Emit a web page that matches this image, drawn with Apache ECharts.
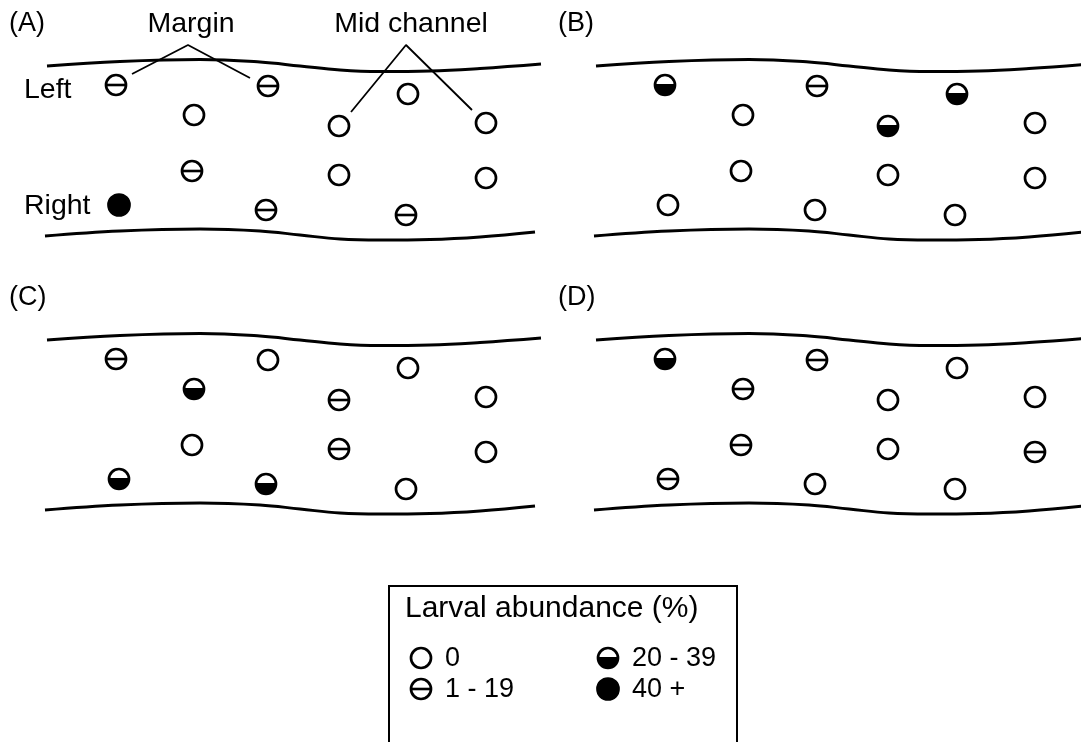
<!DOCTYPE html>
<html><head><meta charset="utf-8">
<script src="https://cdn.jsdelivr.net/npm/echarts@6/dist/echarts.min.js"></script>
<style>html,body{margin:0;padding:0;background:#fff}#c{width:1081px;height:742px}</style>
</head><body><div id="c"></div>
<script>
// ---- data ----
const panelNames = ['(A)', '(B)', '(C)', '(D)'];
// sampling sites (along-channel x, across-channel y) in schematic units
const siteX = [116, 268, 408, 194, 339, 486, 192, 339, 486, 119, 266, 406];
const siteY = [85, 86, 94, 115, 126, 123, 171, 175, 178, 205, 210, 215];
// abundance class per site: 0 = "0", 1 = "1 - 19", 2 = "20 - 39", 3 = "40 +"
const abundA = [1, 1, 0, 0, 0, 0, 1, 0, 0, 3, 1, 1];
const abundB = [2, 1, 2, 0, 2, 0, 0, 0, 0, 0, 0, 0];
const abundC = [1, 0, 0, 2, 1, 0, 0, 1, 0, 2, 2, 0];
const abundD = [2, 1, 0, 1, 0, 0, 1, 0, 1, 1, 0, 0];
// river banks
const topBankX = [47, 120, 200, 260, 300, 340, 380, 430, 480, 541];
const topBankY = [66, 61.5, 59.5, 62, 66, 70, 71.5, 71, 68.5, 64];
const botBankX = [45, 120, 200, 260, 300, 340, 380, 430, 480, 535];
const botBankY = [236, 231, 229, 231, 235, 239, 240, 239.5, 237, 232];
// annotation leaders (panel A)
const marginLeader = [[132, 74], [188, 45], [250, 78]];
const midLeader = [[351, 112], [406, 45], [472, 110]];
const legendLabels = ['0', '1 - 19', '20 - 39', '40 +'];
const legendTitle = 'Larval abundance (%)';

// ---- layout ----
const abund = [abundA, abundB, abundC, abundD];
const offX = [0, 549, 0, 549];
const offY = [0, 0, 274, 274];
const gridW = [545, 532, 545, 532];
const FONT = '"Liberation Sans", Arial, sans-serif';

function symbolShapes(cx, cy, cat) {
  const r = 10, lw = 2.7;
  const ch = [];
  if (cat === 3) {
    ch.push({type: 'circle', shape: {cx, cy, r: r + 0.5}, style: {fill: '#000', stroke: '#000', lineWidth: lw}});
  } else {
    ch.push({type: 'circle', shape: {cx, cy, r}, style: {fill: '#fff', stroke: '#000', lineWidth: lw}});
    if (cat === 2) {
      ch.push({type: 'sector', shape: {cx, cy, r0: 0, r: r, startAngle: 0, endAngle: Math.PI, clockwise: true}, style: {fill: '#000'}});
      ch.push({type: 'line', shape: {x1: cx - r, y1: cy, x2: cx + r, y2: cy}, style: {stroke: '#000', lineWidth: 2}});
    }
    if (cat === 1) {
      ch.push({type: 'line', shape: {x1: cx - r, y1: cy, x2: cx + r, y2: cy}, style: {stroke: '#000', lineWidth: 2.6}});
    }
  }
  return ch;
}

const grids = [], xAxes = [], yAxes = [], series = [];
for (let i = 0; i < 4; i++) {
  grids.push({left: offX[i], top: offY[i], width: gridW[i], height: 260});
  xAxes.push({gridIndex: i, type: 'value', min: 0, max: gridW[i], show: false});
  yAxes.push({gridIndex: i, type: 'value', min: 0, max: 260, inverse: true, show: false});
  const bankStyle = {color: '#000', width: 3};
  series.push({type: 'line', xAxisIndex: i, yAxisIndex: i, smooth: 0.4, symbol: 'none', lineStyle: bankStyle,
    data: topBankX.map((x, k) => [x, topBankY[k]]), silent: true, clip: true});
  series.push({type: 'line', xAxisIndex: i, yAxisIndex: i, smooth: 0.4, symbol: 'none', lineStyle: bankStyle,
    data: botBankX.map((x, k) => [x, botBankY[k]]), silent: true, clip: true});
  series.push({
    type: 'custom', xAxisIndex: i, yAxisIndex: i, z: 5,
    data: siteX.map((x, k) => [x, siteY[k], abund[i][k]]),
    encode: {x: 0, y: 1},
    renderItem: function (params, api) {
      const p = api.coord([api.value(0), api.value(1)]);
      return {type: 'group', children: symbolShapes(p[0], p[1], api.value(2))};
    }
  });
}
// annotation leaders in panel A
[marginLeader, midLeader].forEach(d => series.push({
  type: 'line', xAxisIndex: 0, yAxisIndex: 0, symbol: 'none', smooth: false, z: 4,
  lineStyle: {color: '#000', width: 1.8}, data: d, silent: true
}));

// legend grid
grids.push({left: 380, top: 580, width: 360, height: 162});
xAxes.push({gridIndex: 4, type: 'value', min: 0, max: 360, show: false});
yAxes.push({gridIndex: 4, type: 'value', min: 0, max: 162, inverse: true, show: false});
series.push({
  type: 'custom', xAxisIndex: 4, yAxisIndex: 4, z: 5,
  data: legendLabels.map((t, k) => [41 + Math.floor(k / 2) * 187, 78 + (k % 2) * 31, k]),
  encode: {x: 0, y: 1},
  renderItem: function (params, api) {
    const p = api.coord([api.value(0), api.value(1)]);
    const k = api.value(2);
    const ch = symbolShapes(p[0], p[1], k);
    ch.push({type: 'text', style: {text: legendLabels[params.dataIndex], x: p[0] + 24, y: p[1] + 1,
      fill: '#000', font: '27px ' + FONT, verticalAlign: 'middle', align: 'left'}});
    return {type: 'group', children: ch};
  }
});

const txt = (t, x, y, align, size) => ({type: 'text', x: x, y: y,
  style: {text: t, fill: '#000', font: (size || 28.5) + 'px ' + FONT, align: align || 'left', verticalAlign: 'middle'}});
const graphic = [];
for (let i = 0; i < 4; i++) graphic.push(txt(panelNames[i], offX[i] + 9, offY[i] + 24, 'left', 27));
graphic.push(txt('Margin', 191, 24, 'center'));
graphic.push(txt('Mid channel', 411, 24, 'center'));
graphic.push(txt('Left', 24, 90));
graphic.push(txt('Right', 24, 206));
graphic.push({type: 'rect', shape: {x: 389, y: 586, width: 348, height: 180}, style: {fill: 'none', stroke: '#000', lineWidth: 2}});
graphic.push(txt(legendTitle, 405, 609, 'left', 30));

const chart = echarts.init(document.getElementById('c'), null, {renderer: 'canvas'});
chart.setOption({
  animation: false, backgroundColor: '#fff',
  grid: grids, xAxis: xAxes, yAxis: yAxes, series: series, graphic: graphic
});
</script></body></html>
